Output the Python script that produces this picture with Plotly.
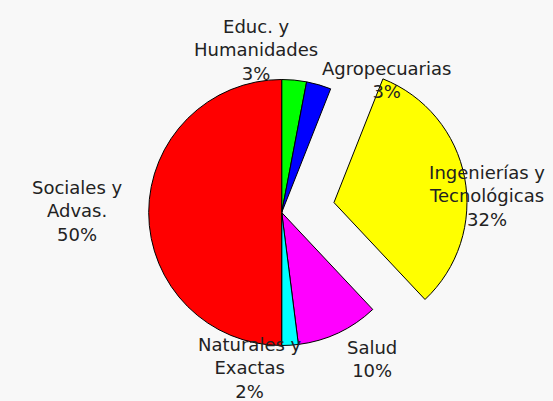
import plotly.graph_objects as go

# Data
labels = ["Educ. y<br>Humanidades", "Agropecuarias", "Ingenierías y<br>Tecnológicas",
          "Salud", "Naturales y<br>Exactas", "Sociales y<br>Advas."]
values = [3, 3, 32, 10, 2, 50]
colors = ["#00ff00", "#0000ff", "#ffff00", "#ff00ff", "#00ffff", "#ff0000"]
pulls = [0, 0, 0.4, 0, 0, 0]

# Label placement (pixels from top-left), layout only
label_pos = [(256, 50), (386, 80), (487, 196), (372, 359), (250, 368), (77, 211)]

W, H = 553, 401
cx, cy, r = 281.7, 212.5, 133
half = r * (1 + max(pulls))

fig = go.Figure(go.Pie(
    labels=labels,
    values=values,
    marker=dict(colors=colors, line=dict(color="#000000", width=1)),
    pull=pulls,
    sort=False,
    direction="clockwise",
    rotation=0,
    textinfo="none",
    hoverinfo="label+percent",
    showlegend=False,
    domain=dict(x=[(cx - half) / W, (cx + half) / W],
                y=[(H - cy - half) / H, (H - cy + half) / H]),
))

total = sum(values)
for lab, val, (px, py) in zip(labels, values, label_pos):
    fig.add_annotation(
        x=px / W, y=1 - py / H, xref="paper", yref="paper",
        text=f"{lab}<br>{round(100 * val / total)}%",
        showarrow=False, xanchor="center", yanchor="middle", align="center",
        font=dict(family="DejaVu Sans", size=18, color="#222222"),
    )

fig.update_layout(
    width=W, height=H,
    margin=dict(l=0, r=0, t=0, b=0),
    paper_bgcolor="#f8f8f8",
    plot_bgcolor="#f8f8f8",
)

fig.write_html(
    "out.html",
    config={"displayModeBar": False},
    post_script="document.body.style.margin='0';document.body.style.overflow='hidden';",
)
